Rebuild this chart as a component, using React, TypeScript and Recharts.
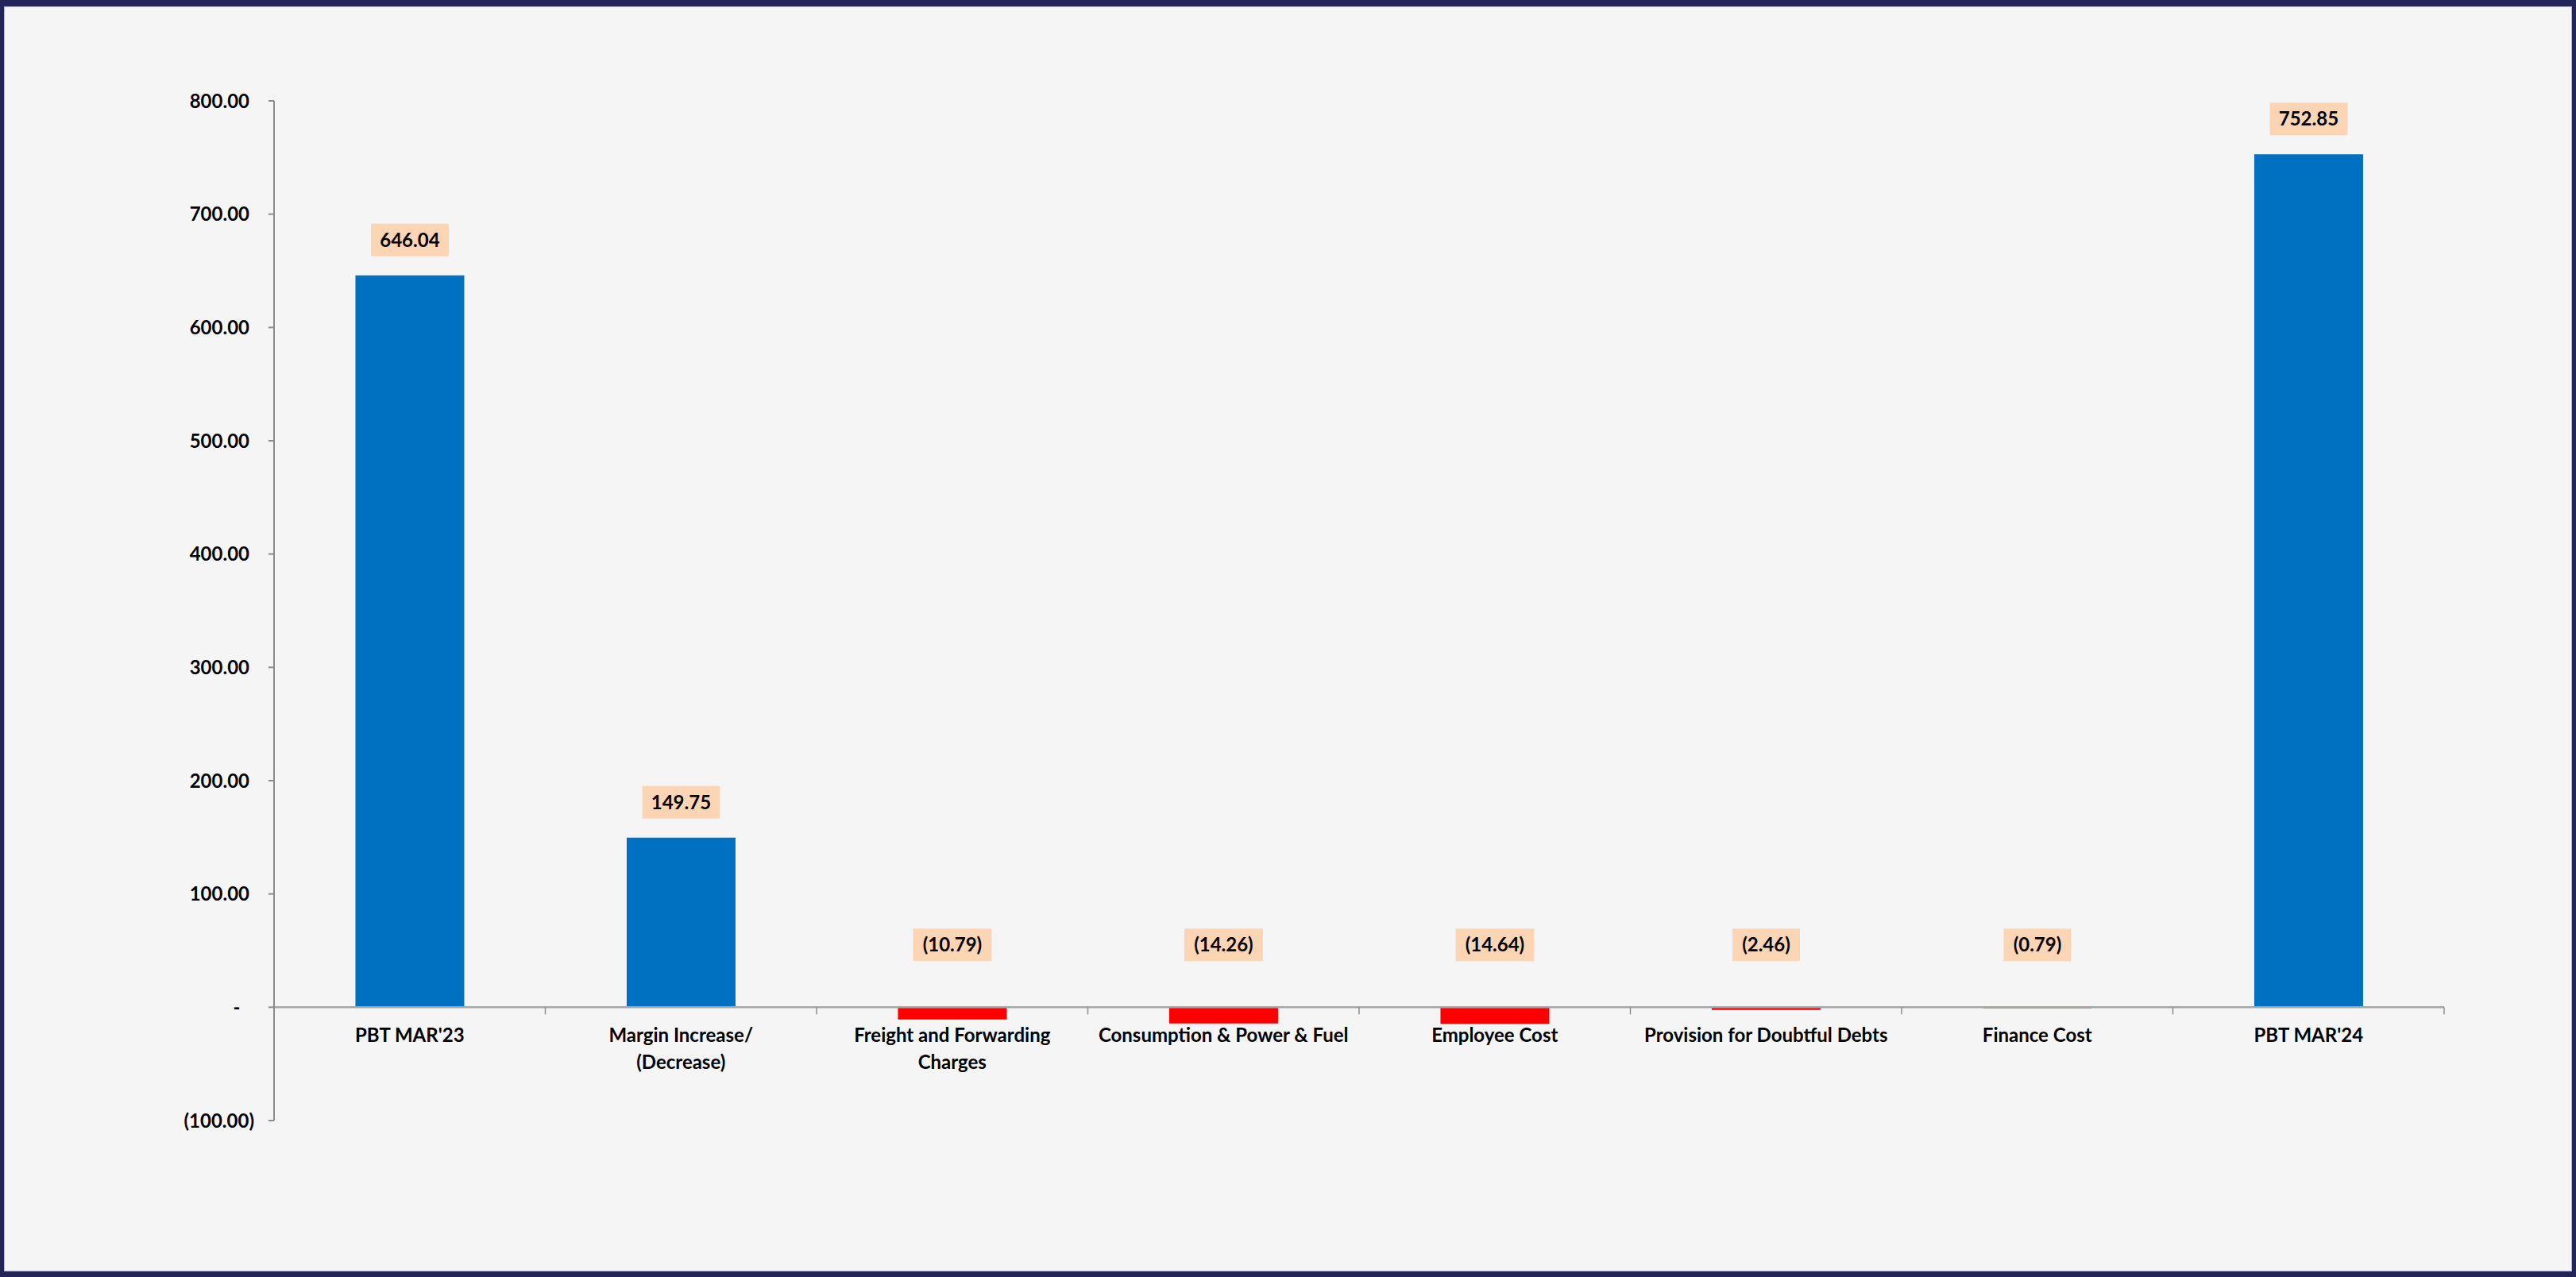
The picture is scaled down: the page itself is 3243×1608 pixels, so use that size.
import { BarChart, Bar, XAxis, YAxis, Cell, LabelList, ReferenceLine } from "recharts";

const categories = [
  "PBT MAR'23",
  "Margin Increase/\n(Decrease)",
  "Freight and Forwarding\nCharges",
  "Consumption & Power & Fuel",
  "Employee Cost",
  "Provision for Doubtful Debts",
  "Finance Cost",
  "PBT MAR'24",
];
const values = [646.04, 149.75, -10.79, -14.26, -14.64, -2.46, -0.79, 752.85];
const yTicks = [-100, 0, 100, 200, 300, 400, 500, 600, 700, 800];

const W = 3243;
const H = 1608;
const MARGIN = { top: 127, right: 166, bottom: 167, left: 0 };
const Y_AXIS_W = 345;
const X_AXIS_H = 30;
const PLOT_W = W - MARGIN.left - MARGIN.right - Y_AXIS_W;
const PLOT_H = H - MARGIN.top - MARGIN.bottom - X_AXIS_H;
const Y_MIN = -100;
const Y_MAX = 800;
// distance from plot bottom up to the zero line
const ZERO_LIFT = (PLOT_H * (0 - Y_MIN)) / (Y_MAX - Y_MIN);
const BAND = PLOT_W / categories.length;

const FONT = "Lato, 'Open Sans', sans-serif";
const BLUE = "#0070C0";
const RED = "#FF0000";
const TAG_BG = "#FCD5B4";
const AXIS = "#8c8c8c";

const data = categories.map((name, i) => ({ name, value: values[i] }));

const fmt = (v: number) => {
  const s = Math.abs(v).toFixed(2).replace(/\B(?=(\d{3})+(?!\d))/g, ",");
  return v < 0 ? `(${s})` : s;
};

const textWidth = (s: string) => {
  let w = 0;
  for (const c of s) {
    if (c >= "0" && c <= "9") w += 13.9;
    else if (c === "." || c === ",") w += 6.2;
    else w += 7.5;
  }
  return w;
};

const ValueTag = (props: any) => {
  const { x, y, width, height, value } = props;
  const top = Math.min(y, y + height);
  const cx = x + width / 2;
  const label = fmt(value);
  const boxW = textWidth(label) + 22;
  const boxH = 41;
  const bottom = value >= 0 ? top - 24 : top - 58;
  return (
    <g>
      <rect x={cx - boxW / 2} y={bottom - boxH} width={boxW} height={boxH} fill={TAG_BG} />
      <text
        x={cx}
        y={bottom - boxH / 2}
        dy="0.36em"
        textAnchor="middle"
        fontFamily={FONT}
        fontWeight={700}
        fontSize={24}
        fill="#000"
      >
        {label}
      </text>
    </g>
  );
};

const YTick = (props: any) => {
  const { x, y, payload } = props;
  const v = payload.value as number;
  const common = { fontFamily: FONT, fontWeight: 700, fontSize: 24, fill: "#000", dy: "0.36em" };
  if (v === 0) {
    return (
      <text x={x - 22} y={y} textAnchor="middle" {...common}>
        -
      </text>
    );
  }
  return (
    <text x={v < 0 ? x : x - 6} y={y} textAnchor="end" {...common}>
      {fmt(v)}
    </text>
  );
};

const XTick = (props: any) => {
  const { x, y, payload, index } = props;
  const zeroY = y - ZERO_LIFT;
  const lines = String(payload.value).split("\n");
  const last = index === categories.length - 1;
  return (
    <g>
      <line x1={x - BAND / 2} x2={x - BAND / 2} y1={zeroY} y2={zeroY + 9} stroke={AXIS} strokeWidth={1.5} />
      {last && (
        <line x1={x + BAND / 2} x2={x + BAND / 2} y1={zeroY} y2={zeroY + 9} stroke={AXIS} strokeWidth={1.5} />
      )}
      <text
        x={x}
        y={zeroY + 35}
        textAnchor="middle"
        fontFamily={FONT}
        fontWeight={700}
        fontSize={24}
        fill="#000"
      >
        {lines.map((l, i) => (
          <tspan key={i} x={x} dy={i === 0 ? "0.36em" : 34}>
            {l}
          </tspan>
        ))}
      </text>
    </g>
  );
};

export default function App() {
  return (
    <div style={{ position: "absolute", left: 0, top: 0, width: W, height: H, background: "#F5F5F5" }}>
      <BarChart width={W} height={H} data={data} margin={MARGIN} barCategoryGap="30%">
        <XAxis
          dataKey="name"
          height={X_AXIS_H}
          axisLine={false}
          tickLine={false}
          tickSize={0}
          tickMargin={0}
          interval={0}
          tick={<XTick />}
        />
        <YAxis
          width={Y_AXIS_W}
          domain={[Y_MIN, Y_MAX]}
          ticks={yTicks}
          interval={0}
          axisLine={{ stroke: AXIS, strokeWidth: 2 }}
          tickLine={{ stroke: AXIS, strokeWidth: 2 }}
          tickSize={7}
          tickMargin={18}
          tick={<YTick />}
        />
        <Bar dataKey="value" isAnimationActive={false}>
          {data.map((d, i) => (
            <Cell key={i} fill={d.value >= 0 ? BLUE : RED} />
          ))}
          <LabelList dataKey="value" content={<ValueTag />} />
        </Bar>
        <ReferenceLine y={0} stroke="#a6a6a6" strokeWidth={2.5} />
      </BarChart>
      <div
        style={{
          position: "absolute",
          inset: 0,
          boxSizing: "border-box",
          borderStyle: "solid",
          borderColor: "#23245A",
          borderWidth: "8px 5px 7px 5px",
          boxShadow: "inset 0 0 0 1px #b4b4cc",
          pointerEvents: "none",
        }}
      />
    </div>
  );
}
